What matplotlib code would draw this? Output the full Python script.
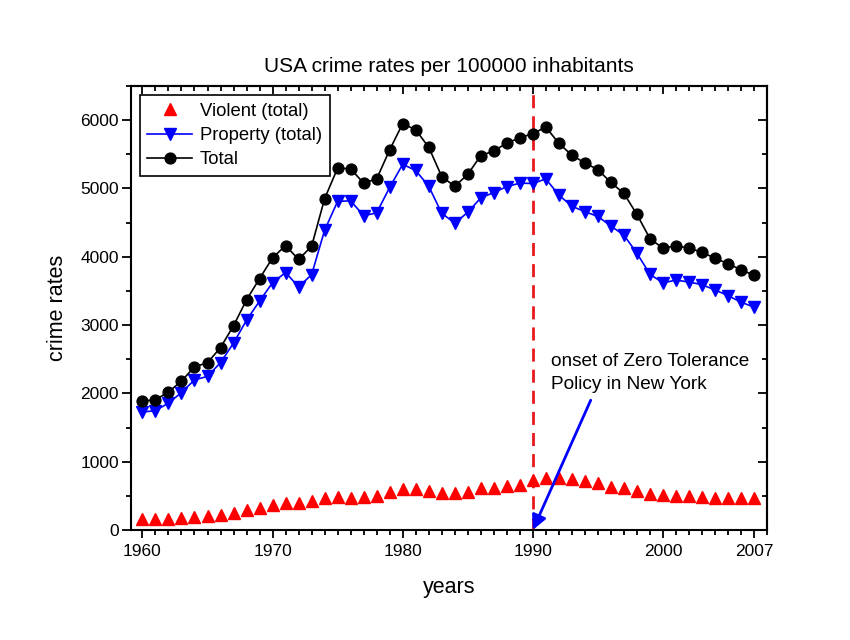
import matplotlib
matplotlib.use("Agg")
import matplotlib.pyplot as plt
from matplotlib.ticker import MultipleLocator

plt.rcParams['font.family'] = ['Liberation Sans', 'DejaVu Sans']

years = list(range(1960, 2008))
violent = [160.9, 158.1, 162.3, 168.2, 190.6, 200.2, 220.0, 253.2, 298.4, 328.7,
           363.5, 396.0, 401.0, 417.4, 461.1, 487.8, 467.8, 475.9, 497.8, 548.9,
           596.6, 594.3, 571.1, 537.7, 539.2, 556.6, 620.1, 609.7, 637.2, 663.1,
           731.8, 758.2, 757.7, 747.1, 713.6, 684.5, 636.6, 611.0, 567.6, 523.0,
           506.5, 504.5, 494.4, 475.8, 463.2, 469.0, 473.6, 466.9]
prop = [1726.3, 1747.9, 1857.5, 2012.1, 2197.5, 2248.8, 2450.9, 2736.5, 3071.8, 3351.3,
        3621.0, 3768.8, 3560.4, 3737.0, 4389.3, 4810.7, 4819.5, 4601.7, 4642.5, 5016.6,
        5353.3, 5263.9, 5032.5, 4637.4, 4492.1, 4650.5, 4862.6, 4940.3, 5027.1, 5077.9,
        5073.1, 5140.2, 4903.7, 4740.0, 4660.2, 4590.5, 4451.0, 4316.3, 4052.5, 3743.6,
        3618.3, 3658.1, 3630.6, 3591.2, 3514.1, 3431.5, 3334.5, 3263.5]
total = [1887.2, 1906.1, 2019.8, 2180.3, 2388.1, 2449.0, 2670.8, 2989.7, 3370.2, 3680.0,
         3984.5, 4164.7, 3961.4, 4154.4, 4850.4, 5298.5, 5287.3, 5077.6, 5140.3, 5565.5,
         5950.0, 5858.2, 5603.7, 5175.1, 5031.3, 5207.1, 5480.4, 5550.0, 5664.2, 5741.0,
         5802.7, 5898.4, 5661.4, 5487.1, 5373.8, 5275.9, 5087.6, 4927.3, 4620.1, 4266.5,
         4124.8, 4162.6, 4125.0, 4067.0, 3977.3, 3900.5, 3808.1, 3730.4]
xtick_vals = [1960, 1970, 1980, 1990, 2000, 2007]
xtick_labels = ['1960', '1970', '1980', '1990', '2000', '2007']
ytick_vals = [0, 1000, 2000, 3000, 4000, 5000, 6000]

fig = plt.figure(figsize=(8.5, 6.4), dpi=100)
ax = fig.add_axes([0.1538, 0.1719, 0.9024 - 0.1538, 0.8656 - 0.1719])

ax.axvline(1990, color='#e8191c', lw=2, ls=(0, (4.7, 2.9)), zorder=1)

ax.plot(years, violent, ls='none', marker='^', color='red', ms=9,
        label='Violent (total)', zorder=3)
ax.plot(years, prop, color='blue', lw=1.2, marker='v', ms=9,
        label='Property (total)', zorder=3)
ax.plot(years, total, color='black', lw=1.2, marker='o', ms=7.8,
        label='Total', zorder=3)

ax.set_xlim(1959.1, 2008.0)
ax.set_ylim(0, 6500)

ax.set_xticks(xtick_vals)
ax.set_xticklabels(xtick_labels)
ax.xaxis.set_minor_locator(MultipleLocator(1))
ax.set_yticks(ytick_vals)
ax.yaxis.set_minor_locator(MultipleLocator(500))
ax.tick_params(which='both', direction='out', labelsize=12.5, width=1.3)
ax.tick_params(axis='x', which='major', length=5.8, pad=4)
ax.tick_params(axis='x', which='minor', length=3.6)
ax.tick_params(axis='y', which='major', length=6.5, pad=2)
ax.tick_params(axis='y', which='minor', length=3.6)

secx = ax.secondary_xaxis('top')
secx.set_xticks([1960, 1970, 1980, 1990, 2000])
secx.xaxis.set_minor_locator(MultipleLocator(1))
secx.tick_params(which='both', direction='in', labeltop=False, width=1.3)
secx.tick_params(which='major', length=5.8)
secx.tick_params(which='minor', length=3.6)
secy = ax.secondary_yaxis('right')
secy.set_yticks(ytick_vals)
secy.yaxis.set_minor_locator(MultipleLocator(500))
secy.tick_params(which='both', direction='in', labelright=False, width=1.3)
secy.tick_params(which='major', length=6.5)
secy.tick_params(which='minor', length=3.6)
for s in list(ax.spines.values()) + [secx.spines['top'], secy.spines['right']]:
    s.set_linewidth(1.5)

ax.set_title('USA crime rates per 100000 inhabitants', fontsize=15, pad=10)
ax.set_xlabel('years', fontsize=15.5, labelpad=13)
ax.set_ylabel('crime rates', fontsize=15.5, labelpad=9)

leg = ax.legend(loc='upper left', fontsize=13.3, frameon=True, fancybox=False,
                edgecolor='black', framealpha=1, borderpad=0.4, labelspacing=0.4,
                handlelength=2.4, handletextpad=0.45, borderaxespad=0.5)
leg.get_frame().set_linewidth(1.2)

ax.annotate('', xy=(1990, 0), xytext=(1994.45, 1900),
            arrowprops=dict(arrowstyle='-|>', color='blue', lw=2,
                            mutation_scale=22, shrinkA=0, shrinkB=0))
ax.text(1991.4, 2590, 'onset of Zero Tolerance\nPolicy in New York',
        fontsize=13.7, va='top', ha='left', linespacing=1.45)

fig.savefig('out.png', dpi=100)
